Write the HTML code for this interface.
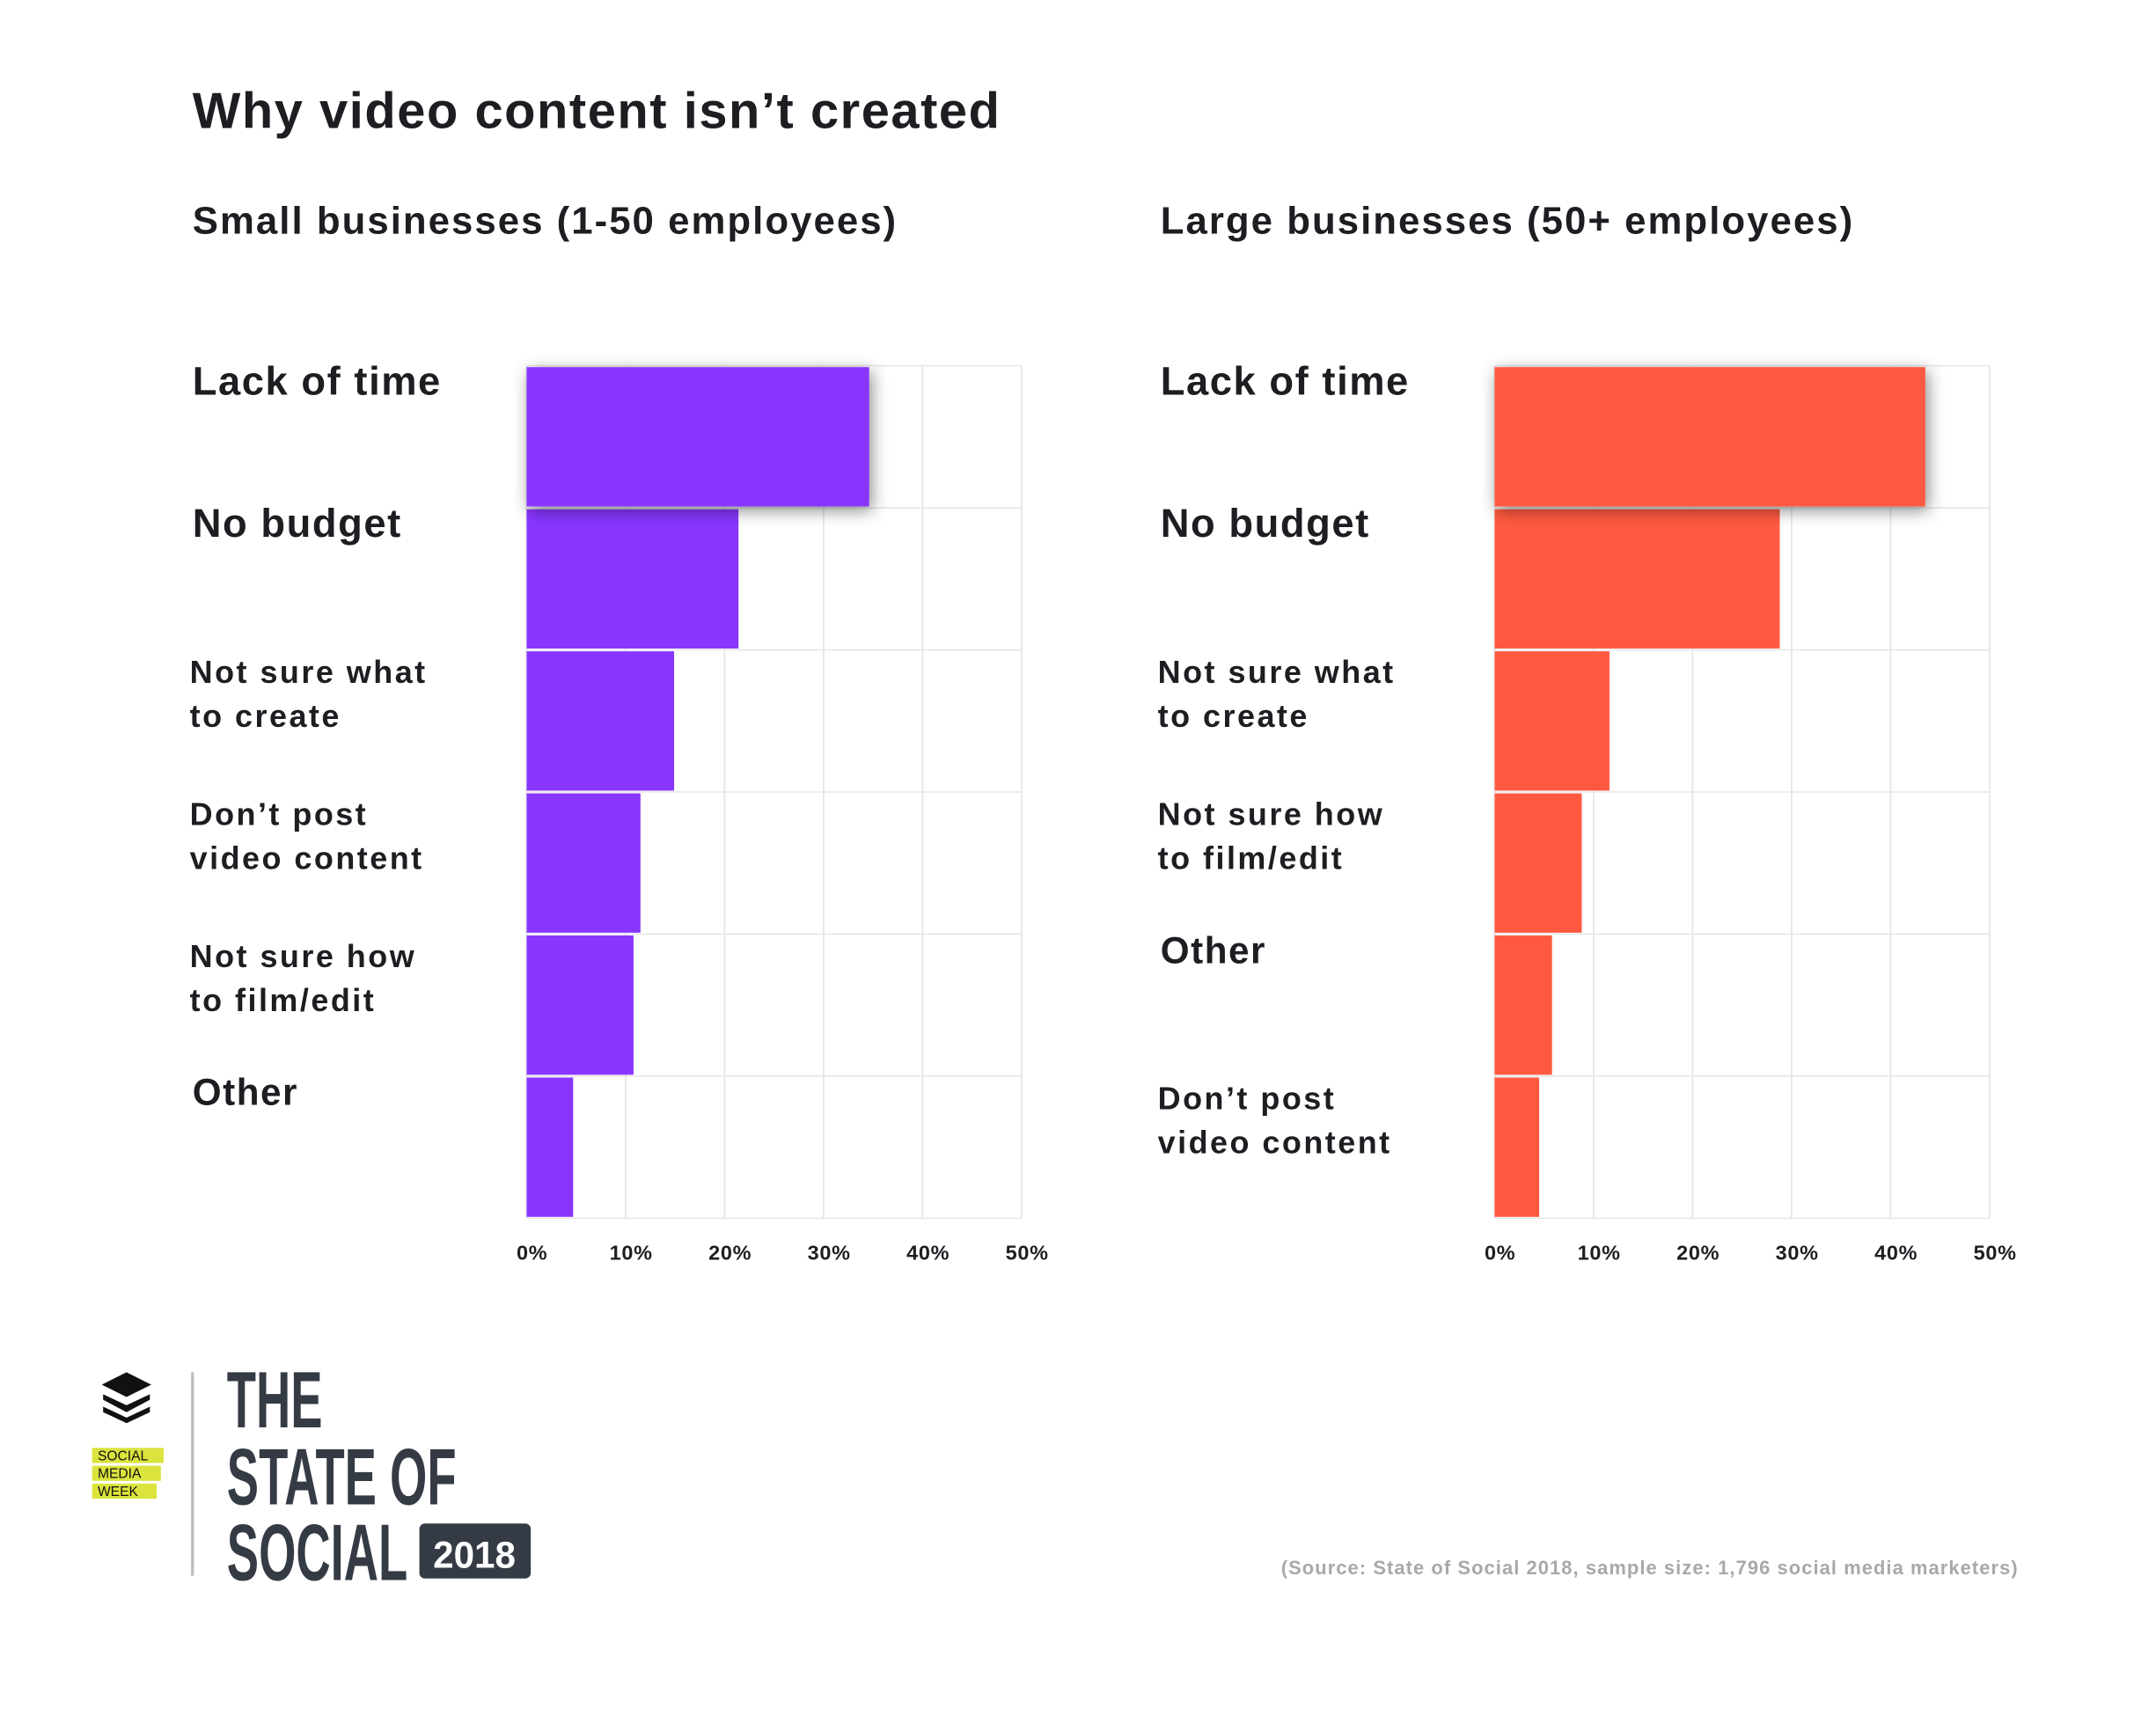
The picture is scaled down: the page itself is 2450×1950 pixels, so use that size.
<!DOCTYPE html>
<html><head><meta charset="utf-8"><style>
html,body{margin:0;padding:0;background:#fff;}
svg{display:block;font-family:"Liberation Sans",sans-serif;}
</style></head><body>
<svg id="chart" width="2450" height="1950" viewBox="0 0 1568 1248" xmlns="http://www.w3.org/2000/svg">
<defs>
<filter id="sh" x="-20%" y="-30%" width="140%" height="170%"><feDropShadow dx="2" dy="3" stdDeviation="6" flood-color="#000" flood-opacity="0.45"/></filter>
</defs>
<text x="140" y="93" font-size="37" font-weight="bold" letter-spacing="1" fill="#1d1d22">Why video content isn’t created</text>
<text x="140" y="170" font-size="28" font-weight="bold" letter-spacing="1.3" fill="#1d1d22">Small businesses (1-50 employees)</text>
<text x="844" y="170" font-size="28" font-weight="bold" letter-spacing="1.3" fill="#1d1d22">Large businesses (50+ employees)</text>
<g id="left"></g>
<g id="right"></g>
<text x="1468" y="1145" font-size="14" font-weight="bold" letter-spacing="0.7" fill="#a8a8ac" text-anchor="end">(Source: State of Social 2018, sample size: 1,796 social media marketers)</text>
<g>
<path d="M92 998 L110 1007 L92 1016 L74 1007 Z" fill="#111"/>
<path d="M75 1014 L92 1022 L109 1014 L109 1018 L92 1027 L75 1018 Z" fill="#111"/>
<path d="M75 1023 L92 1031 L109 1023 L109 1027 L92 1035 L75 1027 Z" fill="#111"/>
<rect x="67" y="1053" width="52" height="11" fill="#dbe33d"/>
<rect x="67" y="1066" width="50" height="11" fill="#dbe33d"/>
<rect x="67" y="1079" width="47" height="11" fill="#dbe33d"/>
<text x="71" y="1062" font-size="10" fill="#111">SOCIAL</text>
<text x="71" y="1075" font-size="10" fill="#111">MEDIA</text>
<text x="71" y="1088" font-size="10" fill="#111">WEEK</text>
<rect x="139" y="998" width="2" height="148" fill="#bbb"/>
<g fill="#353b44" font-weight="bold" font-size="58">
<text x="165" y="1038" transform="translate(165 0) scale(0.6 1) translate(-165 0)">THE</text>
<text x="165" y="1094" transform="translate(165 0) scale(0.6 1) translate(-165 0)">STATE OF</text>
<text x="165" y="1149" transform="translate(165 0) scale(0.6 1) translate(-165 0)">SOCIAL</text>
</g>
<rect x="305" y="1108" width="81" height="40" rx="4" fill="#353b44"/>
<text x="345" y="1140" font-size="27" font-weight="bold" fill="#fff" text-anchor="middle">2018</text>
</g>
</svg>
<script>
const ticks = [0, 10, 20, 30, 40, 50];
const tickLabels = ["0%", "10%", "20%", "30%", "40%", "50%"];
const smallCats = [["Lack of time"], ["No budget"], ["Not sure what", "to create"], ["Don’t post", "video content"], ["Not sure how", "to film/edit"], ["Other"]];
const smallVals = [34.6, 21.4, 14.9, 11.5, 10.8, 4.7];
const largeCats = [["Lack of time"], ["No budget"], ["Not sure what", "to create"], ["Not sure how", "to film/edit"], ["Other"], ["Don’t post", "video content"]];
const largeVals = [43.5, 28.8, 11.6, 8.8, 5.8, 4.5];

const NS = "http://www.w3.org/2000/svg";
function mk(tag, attrs, parent) {
  const e = document.createElementNS(NS, tag);
  for (const k in attrs) e.setAttribute(k, attrs[k]);
  parent.appendChild(e);
  return e;
}
function drawPanel(g, x0, labelX, cats, vals, color, prefix) {
  const top = 266, bottom = 886, w = 360, maxV = 50;
  const rowH = (bottom - top) / cats.length;
  const xs = v => x0 + v / maxV * w;
  for (let i = 0; i <= cats.length; i++) {
    const l = mk("line", {x1: x0, x2: x0 + w, y1: top + i * rowH, y2: top + i * rowH, stroke: "#e6e6e6", "stroke-width": 1}, g);
    
    
  }
  ticks.forEach((t, i) => {
    const l = mk("line", {x1: xs(t), x2: xs(t), y1: top, y2: bottom, stroke: "#e6e6e6", "stroke-width": 1.2}, g);
    
    
    const tx = mk("text", {x: xs(t) + 4, y: 916, "font-size": 15, "font-weight": "bold", "letter-spacing": 0.5, fill: "#1d1d22", "text-anchor": "middle"}, g);
    tx.textContent = tickLabels[i];
    
    
  });
  vals.forEach((v, i) => {
    const attrs = {x: x0, y: top + i * rowH + 1, width: xs(v) - x0, height: rowH - 2, fill: color};
    if (i === 0) attrs.filter = "url(#sh)";
    const r = mk("rect", attrs, g);
    
    
  });
  const first = g.querySelector('rect[filter]');
  g.appendChild(first);
  cats.forEach((c, i) => {
    const cy = top + i * rowH;
    const t = mk("text", {x: labelX, "font-weight": "bold", fill: "#1d1d22"}, g);
    
    
    if (c.length === 1) {
      t.setAttribute("y", cy + 21);
      t.setAttribute("font-size", i < 2 ? 29 : 27);
      t.setAttribute("letter-spacing", 1);
      t.textContent = c[0];
    } else {
      t.setAttribute("font-size", 23);
      t.setAttribute("letter-spacing", 1.6);
      c.forEach((line, j) => {
        const s = mk("tspan", {x: labelX - 2, y: cy + 24 + j * 32}, t);
        s.textContent = line;
      });
    }
  });
}
drawPanel(document.getElementById("left"), 383, 140, smallCats, smallVals, "#8936ff", "small");
drawPanel(document.getElementById("right"), 1087, 844, largeCats, largeVals, "#ff5a3f", "large");
</script>
</body></html>
